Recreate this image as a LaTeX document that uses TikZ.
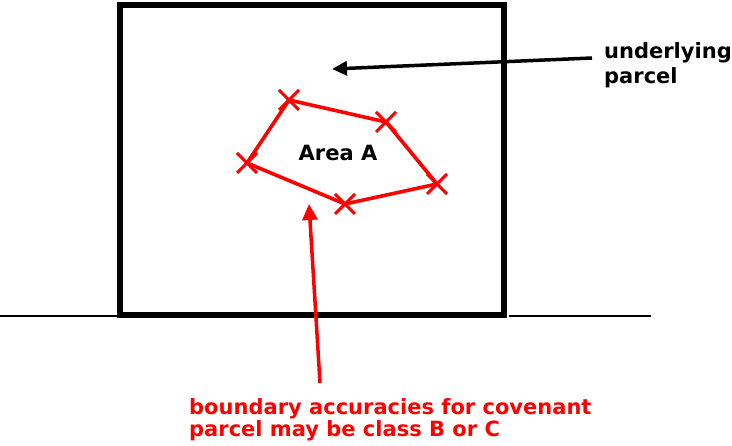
\documentclass[tikz,border=0pt]{standalone}
\usepackage{fontspec}
\setmainfont{DejaVu Sans}
\usetikzlibrary{arrows.meta,shapes.misc}
\definecolor{pred}{RGB}{255,0,0}
\tikzset{
  parcelbox/.style={line width=5.5pt,draw=black},
  ground/.style={line width=1.8pt,draw=black},
  boundary/.style={line width=3.6pt,draw=pred,line join=miter},
  vmark/.style={cross out,draw=pred,line width=3pt,minimum size=17pt,inner sep=0pt},
  lbl/.style={font=\fontsize{21}{25}\selectfont\bfseries,inner sep=0pt,align=left},
  blackarrow/.style={line width=3.5pt,-{Triangle[length=15pt,width=14pt]}},
  redarrow/.style={line width=3.5pt,draw=pred,-{Triangle[length=16pt,width=15pt]},color=pred},
}
\begin{document}
\begin{tikzpicture}[x=1pt,y=-1pt]
\useasboundingbox (0,0) rectangle (732,446);
% ground line and parcel
\coordinate (g1) at (0,316);
\coordinate (g2) at (118,316);
\coordinate (g3) at (509,316);
\coordinate (g4) at (651,316);
\draw[ground] (g1) -- (g2);
\draw[ground] (g3) -- (g4);
\coordinate (p1) at (120,315);
\coordinate (p2) at (504,5);
\draw[parcelbox] (p1) rectangle (p2);
% Area A polygon
\coordinate (v1) at (289,100);
\coordinate (v2) at (386,122);
\coordinate (v3) at (437,184);
\coordinate (v4) at (345,204);
\coordinate (v5) at (247,163);
\draw[boundary] (v1) -- (v2) -- (v3) -- (v4) -- (v5) -- cycle;
\foreach \v in {v1,v2,v3,v4,v5} \node[vmark] (m\v) at (\v) {};
\node[lbl] (area) at (338,153) {Area A};
% underlying parcel label
\node[lbl,anchor=north west] (under) at (604,42) {underlying\\parcel};
\coordinate (bs) at (592,58);
\coordinate (bt) at (332,69);
\draw[blackarrow] (bs) -- (bt);
% red label
\node[lbl,anchor=north west,text=pred,font=\fontsize{21}{22}\selectfont\bfseries] (note) at (189,398) {boundary accuracies for covenant\\parcel may be class B or C};
\coordinate (rs) at (320,383);
\coordinate (rt) at (309,204);
\draw[redarrow] (rs) -- (rt);
\end{tikzpicture}
\end{document}
